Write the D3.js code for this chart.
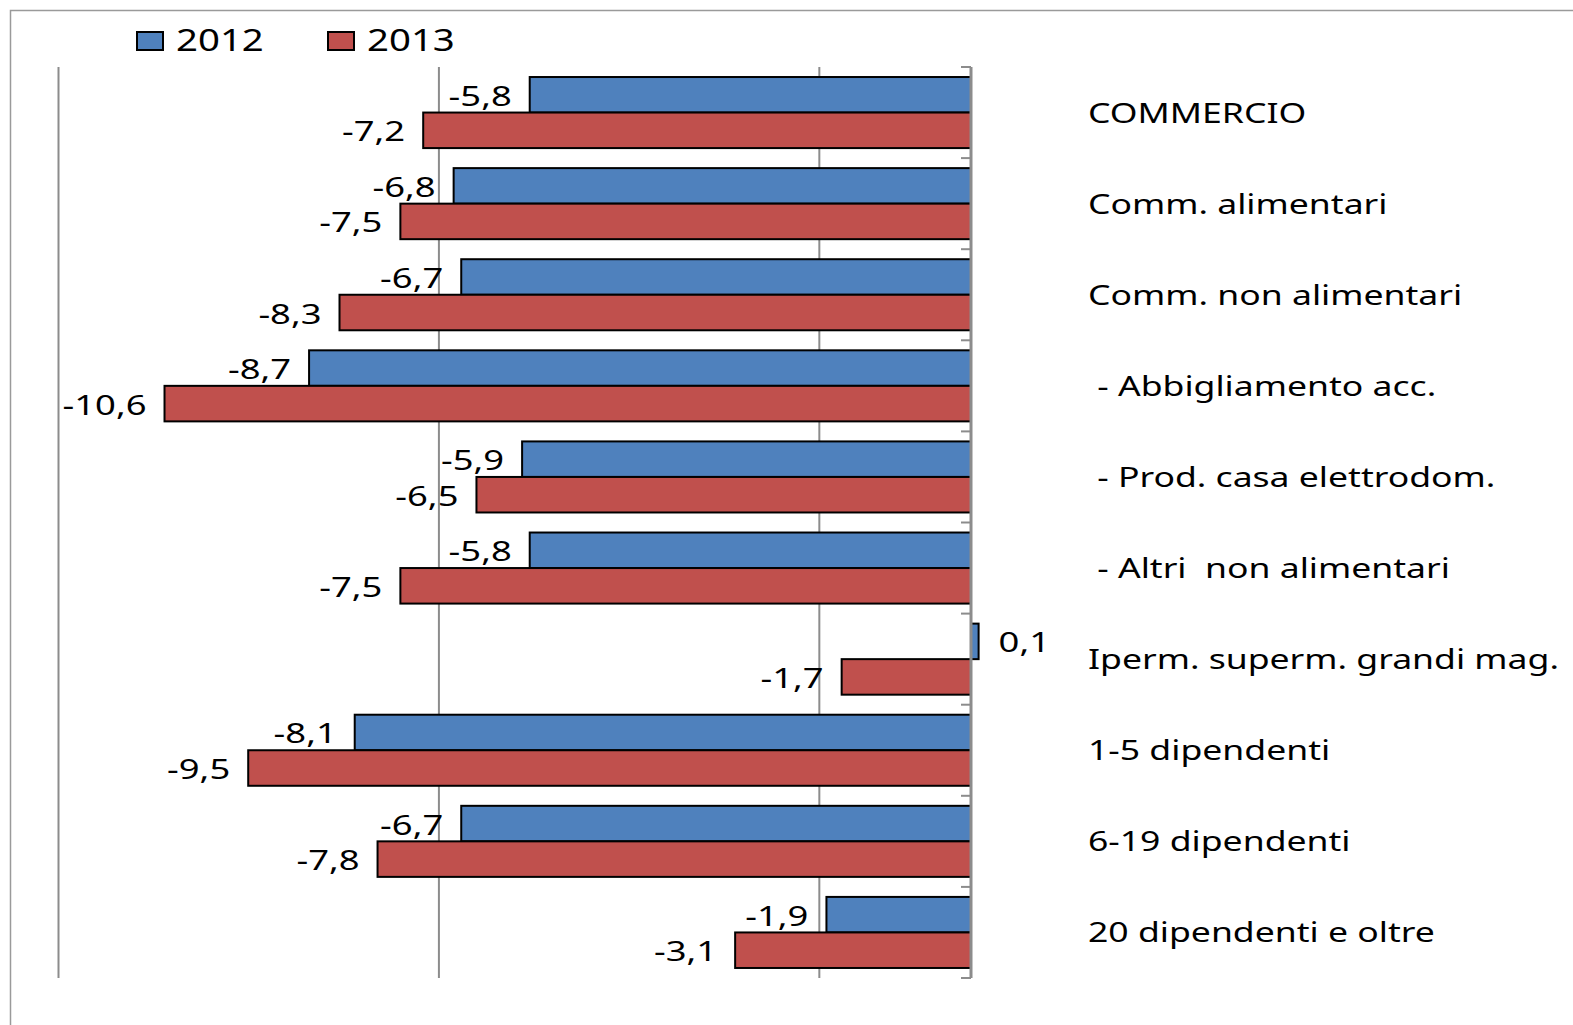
<!DOCTYPE html>
<html>
<head>
<meta charset="utf-8">
<script src="https://cdn.jsdelivr.net/npm/d3@7"></script>
<style>
    body { margin: 0; background: #fff; }
    text { font-family: 'Noto Sans', sans-serif; fill: #000; white-space: pre; }
</style>
</head>
<body>
<div id="chart"></div>
<script>
const categories = [
    'COMMERCIO',
    'Comm. alimentari',
    'Comm. non alimentari',
    ' - Abbigliamento acc.',
    ' - Prod. casa elettrodom.',
    ' - Altri  non alimentari',
    'Iperm. superm. grandi mag.',
    '1-5 dipendenti',
    '6-19 dipendenti',
    '20 dipendenti e oltre'
];
const years = ['2012', '2013'];
const values2012 = [-5.8, -6.8, -6.7, -8.7, -5.9, -5.8, 0.1, -8.1, -6.7, -1.9];
const values2013 = [-7.2, -7.5, -8.3, -10.6, -6.5, -7.5, -1.7, -9.5, -7.8, -3.1];
const gridTicks = [-12, -7, -2];
const colors = {'2012': '#4f81bd', '2013': '#c0504d'};

// the picture is stretched sideways, so texts get a horizontal scale
const stretch = 1.3;
const catStretch = 1.27;
const width = 1573, height = 1025;

const svg = d3.select('#chart').append('svg')
    .attr('width', width)
    .attr('height', height);

// outer frame, runs off the right and bottom edges like in the picture
svg.append('rect')
    .attr('x', 10.5).attr('y', 10.5)
    .attr('width', width).attr('height', height)
    .attr('fill', 'none')
    .attr('stroke', '#9a9a9a')
    .attr('stroke-width', 1.5);

const plot = {top: 67, bottom: 978};

let x = d3.scaleLinear()
    .domain([-12, 0])
    .range([58, 971]);

let y = d3.scaleBand()
    .domain(categories)
    .range([plot.top, plot.bottom])
    .paddingInner(0.22)
    .paddingOuter(0.11);

let ySub = d3.scaleBand()
    .domain(years)
    .range([0, y.bandwidth()]);

// vertical gridlines
const grid = svg.append('g')
    .attr('transform', 'translate(0,' + plot.bottom + ')')
    .call(d3.axisBottom(x).tickValues(gridTicks).tickSize(-(plot.bottom - plot.top)).tickFormat(''));
grid.select('.domain').remove();
grid.selectAll('.tick line')
    .attr('stroke', '#8c8c8c')
    .attr('stroke-width', 2);

// bars
const rows = categories.map((c, i) => ({cat: c, v: {'2012': values2012[i], '2013': values2013[i]}}));

const groups = svg.selectAll('g.row')
    .data(rows)
    .enter().append('g')
    .attr('class', 'row')
    .attr('transform', d => 'translate(0,' + y(d.cat) + ')');

groups.selectAll('rect')
    .data(d => years.map(k => ({year: k, value: d.v[k]})))
    .enter().append('rect')
    .attr('x', d => x(Math.min(0, d.value)))
    .attr('y', d => ySub(d.year))
    .attr('width', d => Math.abs(x(d.value) - x(0)))
    .attr('height', ySub.bandwidth())
    .attr('fill', d => colors[d.year])
    .attr('stroke', '#000')
    .attr('stroke-width', 2);

// vertical axis at zero with tick marks between categories
const step = y.step();
const bounds = categories.map(c => y(c) - step * y.paddingOuter());
bounds.push(plot.bottom);

svg.append('g').selectAll('line')
    .data(bounds)
    .enter().append('line')
    .attr('x1', x(0) - 10).attr('x2', x(0))
    .attr('y1', d => d).attr('y2', d => d)
    .attr('stroke', '#8c8c8c')
    .attr('stroke-width', 2);

svg.append('line')
    .attr('x1', x(0)).attr('x2', x(0))
    .attr('y1', plot.top).attr('y2', plot.bottom)
    .attr('stroke', '#8c8c8c')
    .attr('stroke-width', 3);

// data labels
const fmt = v => String(v).replace('.', ',');

groups.selectAll('text.value')
    .data(d => years.map(k => ({year: k, value: d.v[k]})))
    .enter().append('text')
    .attr('class', 'value')
    .attr('text-anchor', d => d.value < 0 ? 'end' : 'start')
    .attr('transform', d => {
        let tx = d.value < 0 ? x(d.value) - 18 : x(d.value) + 20;
        let ty = ySub(d.year) + ySub.bandwidth() / 2 + 11;
        return 'translate(' + tx + ',' + ty + ') scale(' + stretch + ',1)';
    })
    .style('font-size', '28px')
    .text(d => fmt(d.value));

// category labels on the right
svg.append('g').selectAll('text')
    .data(categories)
    .enter().append('text')
    .attr('transform', d => 'translate(1088,' + (y(d) + y.bandwidth() / 2 + 10) + ') scale(' + catStretch + ',1)')
    .style('font-size', '28px')
    .text(d => d);

// legend
const legend = svg.append('g')
    .selectAll('g')
    .data(years)
    .enter().append('g')
    .attr('transform', (d, i) => 'translate(' + (137 + i * 191) + ',32)');

legend.append('rect')
    .attr('width', 26).attr('height', 18)
    .attr('fill', d => colors[d])
    .attr('stroke', '#000')
    .attr('stroke-width', 2);

legend.append('text')
    .attr('transform', 'translate(39,19) scale(1.28,1)')
    .style('font-size', '30px')
    .text(d => d);
</script>
</body>
</html>
